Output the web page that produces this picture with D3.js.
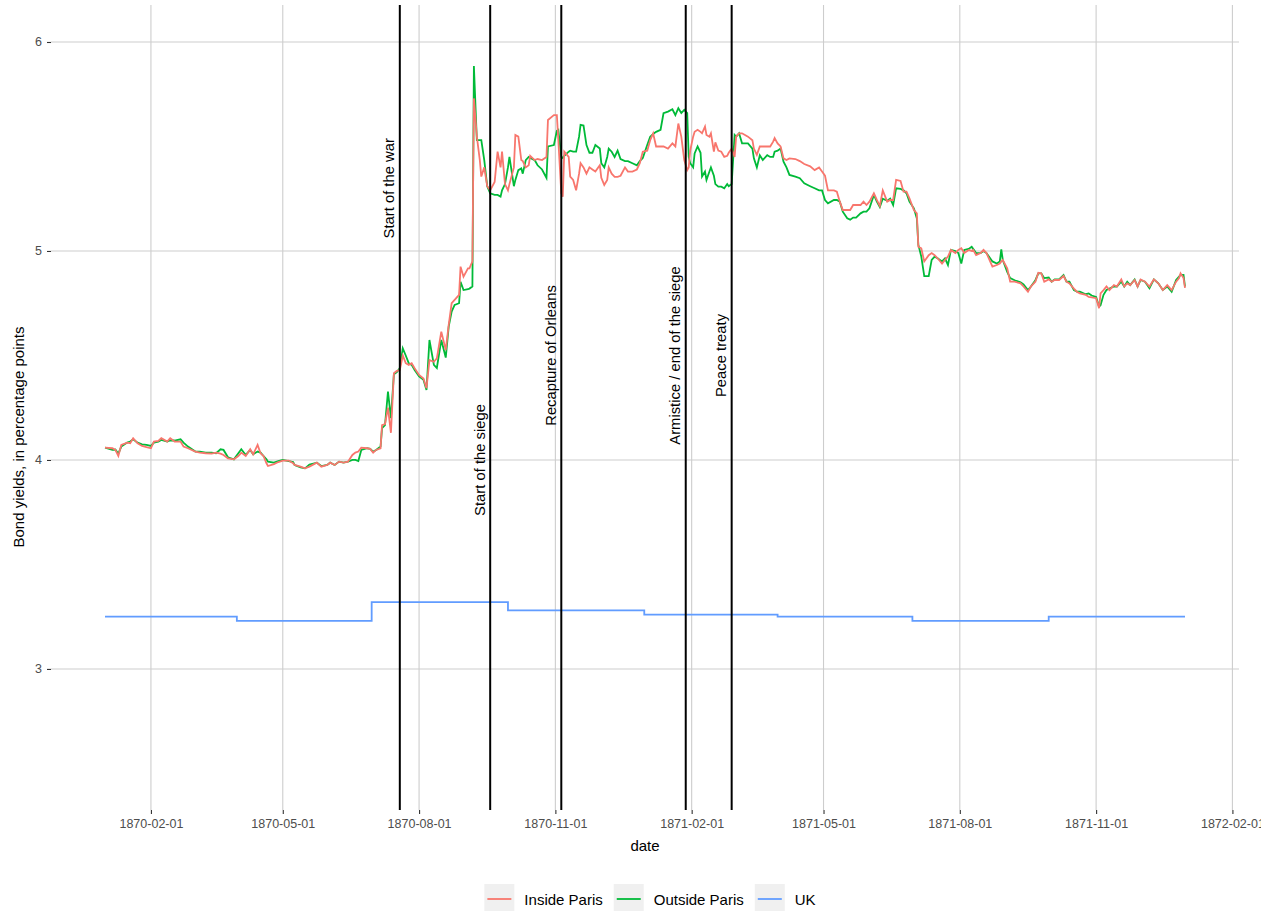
<!DOCTYPE html>
<html>
<head>
<meta charset="utf-8">
<script src="https://cdn.jsdelivr.net/npm/d3@7"></script>
<style>
  body { margin: 0; background: #fff; }
  svg text { font-family: "Liberation Sans", Arial, sans-serif; }
</style>
</head>
<body>
<div id="chart"></div>
<script>
const parisDates = [
  "1870-01-01","1870-01-06","1870-01-08","1870-01-10","1870-01-12","1870-01-16","1870-01-18","1870-01-20","1870-01-23","1870-01-26",
  "1870-01-29","1870-02-01","1870-02-03","1870-02-06","1870-02-08","1870-02-12","1870-02-14","1870-02-17","1870-02-21","1870-02-23",
  "1870-02-26","1870-03-03","1870-03-06","1870-03-10","1870-03-14","1870-03-17","1870-03-20","1870-03-22","1870-03-25","1870-03-29",
  "1870-04-01","1870-04-03","1870-04-06","1870-04-09","1870-04-11","1870-04-14","1870-04-16","1870-04-18","1870-04-20","1870-04-21",
  "1870-04-25","1870-04-28","1870-05-01","1870-05-05","1870-05-08","1870-05-09","1870-05-13","1870-05-16","1870-05-19","1870-05-24",
  "1870-05-27","1870-05-31","1870-06-02","1870-06-05","1870-06-08","1870-06-11","1870-06-14","1870-06-17","1870-06-19","1870-06-21",
  "1870-06-23","1870-06-27","1870-06-29","1870-07-01","1870-07-03","1870-07-06","1870-07-07","1870-07-09","1870-07-11","1870-07-13",
  "1870-07-15","1870-07-17","1870-07-19","1870-07-21","1870-07-23","1870-07-25","1870-07-27","1870-07-29","1870-08-01","1870-08-04",
  "1870-08-06","1870-08-08","1870-08-11","1870-08-13","1870-08-16","1870-08-19","1870-08-21","1870-08-23","1870-08-25","1870-08-28",
  "1870-08-29","1870-08-31","1870-09-03","1870-09-04","1870-09-06","1870-09-07","1870-09-09","1870-09-11","1870-09-12","1870-09-14",
  "1870-09-16","1870-09-18","1870-09-21","1870-09-23","1870-09-25","1870-09-26","1870-09-28","1870-09-30","1870-10-01","1870-10-04",
  "1870-10-05","1870-10-07","1870-10-09","1870-10-10","1870-10-12","1870-10-14","1870-10-15","1870-10-18","1870-10-20","1870-10-23",
  "1870-10-26","1870-10-27","1870-10-31","1870-11-02","1870-11-03","1870-11-05","1870-11-06","1870-11-07","1870-11-10","1870-11-11",
  "1870-11-13","1870-11-15","1870-11-17","1870-11-18","1870-11-20","1870-11-22","1870-11-24","1870-11-26","1870-11-28","1870-12-01",
  "1870-12-02","1870-12-04","1870-12-06","1870-12-07","1870-12-09","1870-12-11","1870-12-13","1870-12-15","1870-12-18","1870-12-20",
  "1870-12-23","1870-12-26","1870-12-28","1870-12-30","1871-01-02","1871-01-04","1871-01-06","1871-01-08","1871-01-11","1871-01-13",
  "1871-01-16","1871-01-19","1871-01-21","1871-01-23","1871-01-25","1871-01-27","1871-01-29","1871-01-30","1871-01-31","1871-02-02",
  "1871-02-03","1871-02-05","1871-02-07","1871-02-08","1871-02-10","1871-02-11","1871-02-13","1871-02-14","1871-02-16","1871-02-17",
  "1871-02-19","1871-02-21","1871-02-23","1871-02-25","1871-02-26","1871-02-28","1871-03-02","1871-03-03","1871-03-05","1871-03-07",
  "1871-03-09","1871-03-11","1871-03-14","1871-03-15","1871-03-17","1871-03-19","1871-03-21","1871-03-24","1871-03-26","1871-03-28",
  "1871-03-29","1871-03-31","1871-04-02","1871-04-04","1871-04-06","1871-04-08","1871-04-12","1871-04-15","1871-04-18","1871-04-22",
  "1871-04-25","1871-04-28","1871-04-30","1871-05-02","1871-05-04","1871-05-08","1871-05-10","1871-05-12","1871-05-14","1871-05-17",
  "1871-05-19","1871-05-21","1871-05-23","1871-05-26","1871-05-28","1871-05-30","1871-06-01","1871-06-04","1871-06-06","1871-06-08",
  "1871-06-10","1871-06-13","1871-06-15","1871-06-17","1871-06-19","1871-06-22","1871-06-24","1871-06-26","1871-06-28","1871-07-01",
  "1871-07-03","1871-07-04","1871-07-06","1871-07-08","1871-07-11","1871-07-13","1871-07-15","1871-07-17","1871-07-20","1871-07-22",
  "1871-07-24","1871-07-26","1871-07-29","1871-07-31","1871-08-02","1871-08-04","1871-08-07","1871-08-09","1871-08-10","1871-08-12",
  "1871-08-15","1871-08-17","1871-08-19","1871-08-23","1871-08-26","1871-08-28","1871-08-29","1871-08-30","1871-09-02","1871-09-04",
  "1871-09-07","1871-09-11","1871-09-13","1871-09-16","1871-09-18","1871-09-21","1871-09-23","1871-09-25","1871-09-27","1871-09-30",
  "1871-10-02","1871-10-04","1871-10-07","1871-10-10","1871-10-12","1871-10-14","1871-10-17","1871-10-19","1871-10-21","1871-10-25",
  "1871-10-27","1871-10-29","1871-11-01","1871-11-03","1871-11-04","1871-11-06","1871-11-08","1871-11-10","1871-11-13","1871-11-15",
  "1871-11-18","1871-11-20","1871-11-22","1871-11-24","1871-11-27","1871-11-29","1871-12-01","1871-12-04","1871-12-07","1871-12-10",
  "1871-12-13","1871-12-16","1871-12-19","1871-12-22","1871-12-25","1871-12-27","1871-12-28","1871-12-30","1871-12-31"
];

const insideParis = [
  4.059,4.056,4.048,4.019,4.072,4.083,4.080,4.104,4.080,4.067,
  4.061,4.056,4.088,4.091,4.104,4.088,4.104,4.088,4.088,4.064,
  4.056,4.040,4.035,4.032,4.030,4.035,4.030,4.024,4.008,4.003,
  4.019,4.035,4.019,4.051,4.027,4.072,4.032,4.019,3.984,3.971,
  3.980,3.990,3.997,3.997,3.984,3.976,3.968,3.960,3.968,3.987,
  3.968,3.976,3.987,3.976,3.992,3.987,3.992,4.024,4.035,4.040,
  4.059,4.056,4.053,4.035,4.048,4.056,4.167,4.172,4.250,4.130,
  4.415,4.426,4.430,4.500,4.463,4.455,4.463,4.439,4.407,4.390,
  4.343,4.478,4.470,4.486,4.614,4.526,4.646,4.750,4.766,4.790,
  4.925,4.877,4.917,4.917,4.950,5.730,5.547,5.435,5.356,5.400,
  5.310,5.290,5.330,5.475,5.400,5.475,5.320,5.290,5.320,5.400,
  5.555,5.547,5.435,5.430,5.400,5.410,5.455,5.435,5.440,5.435,
  5.450,5.627,5.650,5.650,5.530,5.276,5.260,5.475,5.450,5.356,
  5.340,5.290,5.370,5.420,5.400,5.370,5.400,5.390,5.380,5.410,
  5.350,5.316,5.340,5.400,5.370,5.355,5.355,5.360,5.400,5.380,
  5.380,5.390,5.420,5.475,5.480,5.530,5.563,5.500,5.500,5.500,
  5.490,5.515,5.500,5.610,5.547,5.435,5.387,5.400,5.480,5.547,
  5.570,5.580,5.570,5.563,5.595,5.555,5.547,5.563,5.475,5.520,
  5.480,5.475,5.450,5.455,5.470,5.490,5.450,5.547,5.563,5.563,
  5.555,5.547,5.530,5.490,5.460,5.500,5.500,5.500,5.500,5.523,
  5.540,5.515,5.500,5.443,5.435,5.443,5.440,5.430,5.416,5.405,
  5.387,5.400,5.380,5.360,5.290,5.290,5.284,5.236,5.196,5.196,
  5.196,5.220,5.220,5.220,5.236,5.220,5.236,5.276,5.244,5.215,
  5.290,5.236,5.244,5.244,5.340,5.335,5.284,5.284,5.252,5.196,
  5.180,5.020,5.013,4.950,4.980,4.990,4.980,4.965,4.940,4.957,
  4.973,5.005,4.990,5.005,5.013,4.990,5.005,5.000,5.005,4.980,
  4.990,5.005,4.990,4.925,4.933,4.940,4.950,4.957,4.917,4.853,
  4.853,4.845,4.830,4.805,4.830,4.853,4.896,4.893,4.853,4.864,
  4.853,4.861,4.861,4.880,4.853,4.845,4.820,4.805,4.797,4.790,
  4.780,4.778,4.774,4.726,4.797,4.813,4.830,4.813,4.837,4.830,
  4.864,4.830,4.845,4.837,4.861,4.830,4.864,4.853,4.830,4.864,
  4.845,4.813,4.837,4.813,4.853,4.870,4.893,4.870,4.823
];

const outsideParis = [
  4.059,4.048,4.050,4.030,4.064,4.083,4.088,4.099,4.083,4.075,
  4.072,4.067,4.083,4.088,4.096,4.088,4.093,4.093,4.099,4.083,
  4.064,4.040,4.040,4.035,4.035,4.032,4.051,4.048,4.013,4.003,
  4.032,4.051,4.024,4.048,4.027,4.040,4.035,4.019,4.003,3.992,
  3.987,3.994,4.000,3.994,3.990,3.976,3.965,3.960,3.978,3.987,
  3.971,3.976,3.987,3.976,3.992,3.987,3.992,4.000,4.000,3.995,
  4.048,4.056,4.053,4.040,4.048,4.064,4.152,4.167,4.327,4.200,
  4.410,4.420,4.440,4.534,4.500,4.463,4.455,4.430,4.400,4.383,
  4.335,4.574,4.455,4.440,4.574,4.490,4.638,4.710,4.742,4.750,
  4.853,4.813,4.817,4.820,4.830,5.885,5.530,5.530,5.530,5.435,
  5.310,5.276,5.268,5.268,5.260,5.290,5.320,5.400,5.450,5.310,
  5.340,5.387,5.395,5.370,5.435,5.450,5.445,5.435,5.410,5.390,
  5.350,5.500,5.507,5.575,5.580,5.450,5.445,5.455,5.475,5.480,
  5.475,5.475,5.547,5.603,5.600,5.507,5.470,5.470,5.507,5.490,
  5.420,5.400,5.450,5.490,5.475,5.450,5.480,5.440,5.430,5.430,
  5.420,5.410,5.430,5.445,5.507,5.547,5.560,5.570,5.580,5.659,
  5.667,5.678,5.650,5.683,5.660,5.675,5.660,5.450,5.420,5.400,
  5.467,5.500,5.470,5.356,5.380,5.340,5.380,5.400,5.360,5.320,
  5.308,5.308,5.300,5.320,5.310,5.320,5.555,5.547,5.563,5.515,
  5.515,5.515,5.490,5.443,5.400,5.458,5.435,5.458,5.450,5.450,
  5.475,5.480,5.490,5.427,5.400,5.364,5.356,5.348,5.324,5.310,
  5.300,5.290,5.290,5.244,5.228,5.244,5.244,5.236,5.188,5.156,
  5.150,5.160,5.160,5.180,5.188,5.188,5.204,5.268,5.236,5.210,
  5.250,5.240,5.250,5.220,5.300,5.297,5.290,5.276,5.236,5.204,
  5.156,5.030,4.973,4.880,4.880,4.957,4.973,4.965,4.950,4.965,
  4.933,5.005,5.000,4.990,4.940,5.005,5.010,5.020,5.010,4.990,
  4.990,5.000,4.990,4.950,4.940,4.950,5.008,4.957,4.900,4.870,
  4.860,4.850,4.840,4.813,4.830,4.860,4.893,4.893,4.870,4.873,
  4.853,4.864,4.864,4.885,4.853,4.853,4.813,4.805,4.805,4.793,
  4.797,4.787,4.780,4.734,4.740,4.790,4.813,4.820,4.830,4.830,
  4.853,4.830,4.853,4.837,4.864,4.830,4.861,4.853,4.822,4.864,
  4.845,4.813,4.830,4.805,4.861,4.877,4.885,4.885,4.830
];

// UK consol yield, quarterly
const ukDates = ["1870-01-01","1870-03-31","1870-06-30","1870-09-30","1870-12-31","1871-03-31","1871-06-30","1871-09-30","1871-12-31"];
const ukYield = [3.25, 3.23, 3.32, 3.28, 3.26, 3.25, 3.23, 3.25, 3.25];

const eventNames = ["Start of the war", "Start of the siege", "Recapture of Orleans", "Armistice / end of the siege", "Peace treaty"];
const eventDates = ["1870-07-19", "1870-09-18", "1870-11-05", "1871-01-28", "1871-02-28"];
const eventLabelY = [5.3, 4.0, 4.5, 4.5, 4.5];

const xTicks = ["1870-02-01","1870-05-01","1870-08-01","1870-11-01","1871-02-01","1871-05-01","1871-08-01","1871-11-01","1872-02-01"];
const yTicks = [3, 4, 5, 6];

const seriesNames = ["Inside Paris", "Outside Paris", "UK"];
const seriesColors = ["#F8766D", "#00BA38", "#619CFF"];

const W = 1261, H = 911;
const panel = { left: 51, right: 1239, top: 5, bottom: 810 };
const parse = d3.utcParse("%Y-%m-%d");

const svg = d3.select("#chart").append("svg")
  .attr("width", W).attr("height", H);

// x range: data extent padded by 5% on each side, like ggplot
const dataStart = parse(parisDates[0]), dataEnd = parse(parisDates[parisDates.length - 1]);
const pad = (dataEnd - dataStart) * 0.05;
const x = d3.scaleUtc()
  .domain([new Date(+dataStart - pad), new Date(+dataEnd + pad)])
  .range([panel.left, panel.right]);

const y = d3.scaleLinear()
  .domain([2.325, 6.177])
  .range([panel.bottom, panel.top]);

// grid
svg.append("g").selectAll("line").data(yTicks).enter().append("line")
  .attr("x1", panel.left).attr("x2", panel.right)
  .attr("y1", d => y(d)).attr("y2", d => y(d))
  .attr("stroke", "#cdcdcd").attr("stroke-width", 1.1);
svg.append("g").selectAll("line").data(xTicks).enter().append("line")
  .attr("x1", d => x(parse(d))).attr("x2", d => x(parse(d)))
  .attr("y1", panel.top).attr("y2", panel.bottom)
  .attr("stroke", "#cdcdcd").attr("stroke-width", 1.1);

// axes
const xAxis = svg.append("g")
  .attr("transform", "translate(0," + panel.bottom + ")")
  .call(d3.axisBottom(x).tickValues(xTicks.map(parse)).tickFormat(d3.utcFormat("%Y-%m-%d")).tickSize(4).tickPadding(5));
const yAxis = svg.append("g")
  .attr("transform", "translate(" + panel.left + ",0)")
  .call(d3.axisLeft(y).tickValues(yTicks).tickFormat(d3.format("d")).tickSize(4).tickPadding(5));
[xAxis, yAxis].forEach(g => {
  g.select(".domain").remove();
  g.selectAll(".tick line").attr("stroke", "#333333").attr("stroke-width", 1.1);
  g.selectAll(".tick text").attr("fill", "#4d4d4d").style("font-size", "12.5px");
});

svg.append("text")
  .attr("x", (panel.left + panel.right) / 2)
  .attr("y", 851)
  .attr("text-anchor", "middle")
  .style("font-size", "15px")
  .text("date");

svg.append("text")
  .attr("transform", "rotate(-90)")
  .attr("x", -437)
  .attr("y", 24)
  .attr("text-anchor", "middle")
  .style("font-size", "15px")
  .text("Bond yields, in percentage points");

// series
const line = d3.line()
  .x(d => x(d.date))
  .y(d => y(d.value));

const inside = parisDates.map((d, i) => ({ date: parse(d), value: insideParis[i] }));
const outside = parisDates.map((d, i) => ({ date: parse(d), value: outsideParis[i] }));
const uk = ukDates.map((d, i) => ({ date: parse(d), value: ukYield[i] }));

svg.append("path").datum(outside)
  .attr("d", line).attr("fill", "none")
  .attr("stroke", seriesColors[1]).attr("stroke-width", 1.8);
svg.append("path").datum(inside)
  .attr("d", line).attr("fill", "none")
  .attr("stroke", seriesColors[0]).attr("stroke-width", 1.8);
svg.append("path").datum(uk)
  .attr("d", line.curve(d3.curveStepAfter)).attr("fill", "none")
  .attr("stroke", seriesColors[2]).attr("stroke-width", 1.8);

// events
const events = eventNames.map((n, i) => ({ name: n, date: parse(eventDates[i]), ly: eventLabelY[i] }));
svg.append("g").selectAll("line").data(events).enter().append("line")
  .attr("x1", d => x(d.date)).attr("x2", d => x(d.date))
  .attr("y1", panel.top).attr("y2", panel.bottom)
  .attr("stroke", "#000").attr("stroke-width", 2);
svg.append("g").selectAll("text").data(events).enter().append("text")
  .attr("transform", d => "translate(" + x(d3.utcDay.offset(d.date, -7)) + "," + y(d.ly) + ") rotate(-90)")
  .attr("text-anchor", "middle")
  .attr("dominant-baseline", "central")
  .style("font-size", "14.8px")
  .text(d => d.name);

// legend
const legend = svg.append("g");
let lx = 0;
seriesNames.forEach((name, i) => {
  const item = legend.append("g").attr("transform", "translate(" + lx + ",0)");
  item.append("rect").attr("width", 30).attr("height", 30).attr("fill", "#f0f0f0");
  item.append("line").attr("x1", 3).attr("x2", 27).attr("y1", 15).attr("y2", 15)
    .attr("stroke", seriesColors[i]).attr("stroke-width", 1.8);
  const t = item.append("text").attr("x", 40).attr("y", 15)
    .attr("dominant-baseline", "central").style("font-size", "15px").text(name);
  lx += 40 + t.node().getComputedTextLength() + 11;
});
legend.attr("transform", "translate(" + (650 - (lx - 11) / 2) + ",884)");
</script>
</body>
</html>
